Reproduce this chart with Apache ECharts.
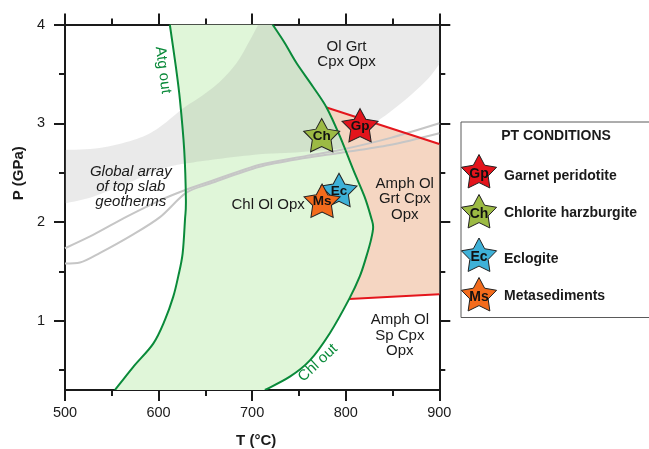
<!DOCTYPE html>
<html>
<head>
<meta charset="utf-8">
<script src="https://cdn.jsdelivr.net/npm/echarts@6/dist/echarts.min.js"></script>
<style>html,body{margin:0;padding:0;background:#fff}#c{width:649px;height:449px}</style>
</head>
<body>
<div id="c"></div>
<script>
// ---- data (T in °C, P in GPa) ----
const atgOut = [[612,4.0],[618.5,3.57],[622.8,3.24],[627.4,2.73],[629.2,2.22],[628.2,2.02],[625.7,1.68],[621,1.45],[615.7,1.245],[606.8,1.01],[594.3,0.77],[573,0.535],[553.4,0.3]];
const chlOut = [[721.8,4.0],[735,3.81],[747.4,3.61],[765,3.37],[779.5,3.16],[793.7,2.87],[808,2.53],[820,2.26],[827,2.05],[829.3,1.95],[827,1.82],[822,1.65],[815,1.45],[803.6,1.22],[783,0.875],[761.7,0.6],[740.3,0.435],[713.6,0.3]];
const bandUpper = [[500,2.73],[537,2.75],[573,2.83],[598,2.94],[626,3.15],[648,3.29],[665.5,3.42],[683.4,3.61],[697.6,3.84],[706.5,4.0]];
const bandLower = [[500,2.19],[530,2.257],[566,2.39],[601.5,2.53],[630,2.595],[700,2.68],[753,2.71],[796,2.75],[812,2.84],[828,2.98],[848,3.12],[870,3.29],[888,3.45],[900,3.6]];
const geothermA = [[500,1.735],[530,1.87],[566,2.055],[601.5,2.22],[630,2.33],[655,2.41],[708,2.58],[758,2.67],[794,2.73],[847,2.85],[900,3.0]];
const geothermB = [[500,1.58],[516,1.59],[537,1.685],[572,1.87],[601.5,2.05],[630,2.30],[655,2.39],[708,2.56],[758,2.65],[794,2.70],[847,2.78],[900,2.90]];
const redTop = [[779.5,3.16],[900,2.79]];
const redBottom = [[803.6,1.22],[900,1.27]];
const sampleCodes = ['Gp','Ch','Ec','Ms'];
const sampleNames = ['Garnet peridotite','Chlorite harzburgite','Eclogite','Metasediments'];
const sampleT = [815.3,774.3,792.8,774.7];
const sampleP = [2.98,2.88,2.325,2.216];
const sampleColors = ['#e3141c','#9cba44','#3eb1d8','#f36b1c'];
const regionTexts = ['Ol Grt\nCpx Opx','Global array\nof top slab\ngeotherms','Chl Ol Opx','Amph Ol\nGrt Cpx\nOpx','Amph Ol\nSp Cpx\nOpx'];
const regionT = [800.8,570.3,717.1,863.1,857.8];
const regionP = [3.70,2.355,2.173,2.23,0.85];
const curveTexts = ['Atg out','Chl out'];
const curveT = [604.7,770.2];
const curveP = [3.54,0.574];
const xTicks = [500,600,700,800,900];
const yTicks = [1,2,3,4];
const yMinorTicks = [0.5,1.5,2.5,3.5];

// ---- rendering helpers ----
const FONT = "'Liberation Sans', Arial, Helvetica, sans-serif";
const INK = '#1a1a1a';
const GREEN = '#0a8a3a';
const RED = '#e4161d';

function starPoints(cx, cy, R, r){
  const pts = [];
  for (let k=0;k<10;k++){
    const a = -Math.PI/2 + k*Math.PI/5;
    const rad = k%2===0 ? R : r;
    pts.push([cx + rad*Math.cos(a), cy + rad*Math.sin(a)]);
  }
  return pts;
}
const STAR = 'path://M' + starPoints(50,50,50,26).map(p => p[0].toFixed(2)+' '+p[1].toFixed(2)).join(' L') + ' Z';

function f(v){ return v.toFixed(2); }
// Catmull-Rom spline through pixel points, from index i0 to i1 (either direction)
function bez(px, i0, i1, move){
  const n = px.length;
  let d = (move ? 'M' : 'L') + f(px[i0][0]) + ' ' + f(px[i0][1]);
  const step = i1 >= i0 ? 1 : -1;
  const cl = i => px[Math.min(Math.max(i,0),n-1)];
  for (let i = i0; i !== i1; i += step){
    const p0 = cl(i-step), p1 = px[i], p2 = px[i+step], p3 = cl(i+2*step);
    const c1 = [p1[0]+(p2[0]-p0[0])/6, p1[1]+(p2[1]-p0[1])/6];
    const c2 = [p2[0]-(p3[0]-p1[0])/6, p2[1]-(p3[1]-p1[1])/6];
    d += ' C' + f(c1[0])+' '+f(c1[1])+' '+f(c2[0])+' '+f(c2[1])+' '+f(p2[0])+' '+f(p2[1]);
  }
  return d;
}
function L(api, p){ const c = api.coord(p); return ' L' + f(c[0]) + ' ' + f(c[1]); }
function pix(api, pts){ return pts.map(p => api.coord(p)); }

function pathSeries(name, z, build, style){
  return {
    type:'custom', name, z, silent:true, clip:true,
    data:[[700,2]],
    renderItem:(params, api) => ({type:'path', shape:{pathData: build(api)}, style})
  };
}

const greenField = pathSeries('Chl Ol Opx field', 1, api => {
  const a = pix(api, atgOut), c = pix(api, chlOut);
  return bez(a, 0, a.length-1, true) + bez(c, c.length-1, 0, false) + ' Z';
}, {fill:'#e0f6d9', stroke:'none'});

const band = pathSeries('Global array of top slab geotherms', 2, api => {
  const lo = pix(api, bandLower), up = pix(api, bandUpper);
  return bez(lo, 0, lo.length-1, true) + L(api,[900,4]) + bez(up, up.length-1, 0, false) + ' Z';
}, {fill:'rgba(150,150,150,0.2)', stroke:'none'});

const iTop = chlOut.findIndex(p => p[0] === redTop[0][0] && p[1] === redTop[0][1]);
const iBot = chlOut.findIndex(p => p[0] === redBottom[0][0] && p[1] === redBottom[0][1]);
const salmon = pathSeries('Amph Ol Grt Cpx Opx field', 3, api => {
  const c = pix(api, chlOut);
  return bez(c, iTop, iBot, true) + L(api, redBottom[1]) + L(api, redTop[1]) + ' Z';
}, {fill:'#f5d6c2', stroke:'none'});

const curves = pathSeries('Atg out / Chl out', 6, api => {
  const a = pix(api, atgOut), c = pix(api, chlOut);
  return bez(a, 0, a.length-1, true) + ' ' + bez(c, 0, c.length-1, true);
}, {fill:'none', stroke:GREEN, lineWidth:2});

function lineSeries(name, data, color, smooth, z){
  return {type:'line', name, data, z, smooth, showSymbol:false, symbol:'none', silent:true, clip:true,
    lineStyle:{color, width:2}};
}

const textSeries = {
  type:'custom', name:'labels', z:7, silent:true, clip:false,
  data: regionTexts.map((t,i) => [regionT[i], regionP[i]]).concat(curveTexts.map((t,i)=>[curveT[i],curveP[i]])),
  renderItem:(params, api) => {
    const i = params.dataIndex;
    const c = api.coord([api.value(0), api.value(1)]);
    const isCurve = i >= regionTexts.length;
    const text = isCurve ? curveTexts[i-regionTexts.length] : regionTexts[i];
    const italic = text.indexOf('Global') === 0;
    let rotation = 0;
    if (isCurve) rotation = (i - regionTexts.length === 0) ? -82.5*Math.PI/180 : 43*Math.PI/180;
    const lh = (i === 3 || i === 4) ? 15.5 : 15;
    return {type:'text', x:c[0], y:c[1], rotation,
      style:{text, fill: isCurve ? GREEN : INK, fontSize:15, fontFamily:FONT,
        fontStyle: italic ? 'italic' : 'normal', lineHeight: lh,
        align:'center', verticalAlign:'middle', textAlign:'center', textVerticalAlign:'middle'}};
  }
};

const starSeries = sampleCodes.map((code,i) => ({
  type:'scatter', name: sampleNames[i], z:8,
  data:[[sampleT[i], sampleP[i]]],
  symbol: STAR, symbolKeepAspect:true, symbolSize:[36,35],
  itemStyle:{color: sampleColors[i], borderColor:'#222', borderWidth:1, opacity:1},
  label:{show:true, position:'inside', formatter: code, color:'#111', fontWeight:'bold', fontSize:13.5, fontFamily:FONT, offset:[0,1]},
  emphasis:{disabled:true}
}));

// ---- legend (PT CONDITIONS box) ----
const legendY = [173, 213, 256.5, 296];
const legendTextY = [176, 213.5, 259, 296.5];
const graphics = [
  {type:'rect', left:460.5, top:121.5, shape:{x:0,y:0,width:200,height:195.5}, style:{fill:'#fff', stroke:'#5a5a5a', lineWidth:1}, z:10},
  {type:'text', x:556, y:136.5, style:{text:'PT CONDITIONS', fontSize:14, fontWeight:'bold', fontFamily:FONT, fill:INK, align:'center', verticalAlign:'middle'}, z:11}
];
sampleCodes.forEach((code,i) => {
  graphics.push({type:'polygon', shape:{points: starPoints(479, legendY[i], 18.5, 9.6)}, style:{fill:sampleColors[i], stroke:'#222', lineWidth:1}, z:11});
  graphics.push({type:'text', x:479, y:legendY[i]+1, style:{text:code, fontSize:14, fontWeight:'bold', fontFamily:FONT, fill:'#111', align:'center', verticalAlign:'middle'}, z:12});
  graphics.push({type:'text', x:504, y:legendTextY[i], style:{text:sampleNames[i], fontSize:14, fontWeight:'bold', fontFamily:FONT, fill:INK, align:'left', verticalAlign:'middle'}, z:12});
});

// ---- axes ----
const axLine = {show:true, onZero:false, lineStyle:{color:INK, width:2}};
const tickStyle = {color:INK, width:2};
const xBase = {type:'value', min:500, max:900, interval:100, splitLine:{show:false}, minorSplitLine:{show:false},
  axisLine:axLine, axisTick:{show:true, length:11, lineStyle:tickStyle},
  minorTick:{show:true, splitNumber:2, length:6, lineStyle:tickStyle}};
const yBase = {type:'value', min:0.3, max:4, splitLine:{show:false}};

const option = {
  animation:false,
  backgroundColor:'#fff',
  textStyle:{fontFamily:FONT},
  grid:{left:65, right:209.7, top:24.5, bottom:59, containLabel:false, outerBoundsMode:'none'},
  xAxis:[
    Object.assign({}, xBase, {position:'bottom',
      axisLabel:{show:true, margin:15, fontSize:14.5, color:INK, fontFamily:FONT, customValues:xTicks},
      name:'T (°C)', nameLocation:'middle', nameGap:43,
      nameTextStyle:{fontSize:15, fontWeight:'bold', color:INK, fontFamily:FONT, padding:[0,0,0,8]}}),
    Object.assign({}, xBase, {position:'top', axisLabel:{show:false}})
  ],
  yAxis:[
    Object.assign({}, yBase, {position:'left', axisLine:axLine,
      axisTick:{show:true, length:11, lineStyle:tickStyle, customValues:yTicks},
      axisLabel:{show:true, margin:20, fontSize:14.5, color:INK, fontFamily:FONT, customValues:yTicks},
      name:'P (GPa)', nameLocation:'middle', nameGap:39,
      nameTextStyle:{fontSize:15, fontWeight:'bold', color:INK, fontFamily:FONT, padding:[0,0,0,68]}}),
    Object.assign({}, yBase, {position:'left', axisLine:{show:false},
      axisTick:{show:true, length:6, lineStyle:tickStyle, customValues:yMinorTicks}, axisLabel:{show:false}}),
    Object.assign({}, yBase, {position:'right', axisLine:axLine,
      axisTick:{show:true, length:11, lineStyle:tickStyle, customValues:yTicks}, axisLabel:{show:false}}),
    Object.assign({}, yBase, {position:'right', axisLine:{show:false},
      axisTick:{show:true, length:6, lineStyle:tickStyle, customValues:yMinorTicks}, axisLabel:{show:false}})
  ],
  graphic: graphics,
  series: [
    greenField, band, salmon,
    lineSeries('Top slab geotherm 1', geothermA, '#c6c6c6', 0.3, 4),
    lineSeries('Top slab geotherm 2', geothermB, '#c6c6c6', 0.3, 4),
    lineSeries('Upper reaction', redTop, RED, false, 5),
    lineSeries('Lower reaction', redBottom, RED, false, 5),
    curves, textSeries
  ].concat(starSeries)
};

const chart = echarts.init(document.getElementById('c'), null, {renderer:'canvas'});
chart.setOption(option);
</script>
</body>
</html>
